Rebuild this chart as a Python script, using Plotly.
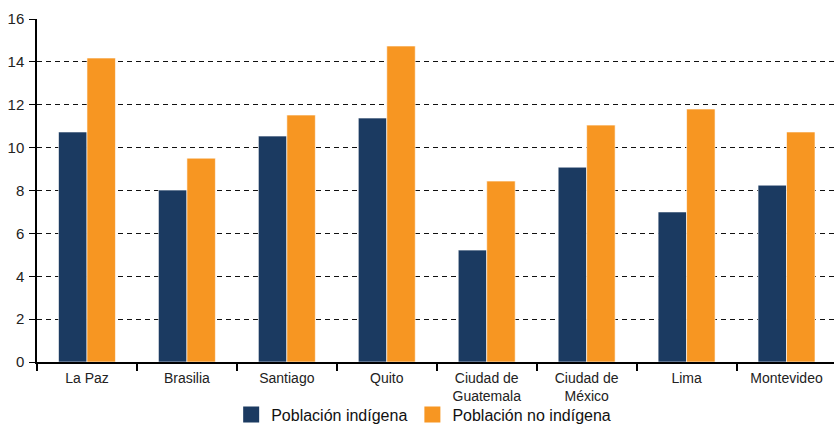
import plotly.graph_objects as go

categories = ["La Paz", "Brasilia", "Santiago", "Quito", "Ciudad de<br>Guatemala",
              "Ciudad de<br>México", "Lima", "Montevideo"]
indigena = [10.73, 8.02, 10.54, 11.38, 5.22, 9.09, 7.0, 8.25]
no_indigena = [14.18, 9.51, 11.52, 14.74, 8.44, 11.05, 11.8, 10.73]
y_ticks = [0, 2, 4, 6, 8, 10, 12, 14, 16]
series_names = ["Población indígena", "Población no indígena"]
colors = ["#1b3a61", "#f79622"]

fig = go.Figure()
for name, vals, col in zip(series_names, [indigena, no_indigena], colors):
    fig.add_trace(go.Bar(x=categories, y=vals, name=name, showlegend=False,
                         marker=dict(color=col, line=dict(color="rgba(255,255,255,0.6)", width=1))))
# legend entries with larger square symbols
for name, col in zip(series_names, colors):
    fig.add_trace(go.Scatter(x=[None], y=[None], mode="markers", name=name,
                             marker=dict(symbol="square", size=16, color=col)))

fig.update_layout(
    width=834, height=424,
    margin=dict(l=37, r=0, t=19, b=62),
    paper_bgcolor="white", plot_bgcolor="white",
    barmode="group", bargap=0.43, bargroupgap=0,
    font=dict(family="Liberation Sans, Arial, sans-serif", color="#222", size=12),
    showlegend=True,
    legend=dict(orientation="h", xref="container", x=0.508, xanchor="center",
                yref="container", y=0.022, yanchor="middle",
                bgcolor="rgba(0,0,0,0)",
                font=dict(size=16, color="#111"), itemwidth=30,
                traceorder="normal"),
    xaxis=dict(range=[-0.5, 7.475], showline=True, linecolor="black", linewidth=1.5,
               ticks="outside", tickson="boundaries", ticklen=7, tickcolor="black",
               tickwidth=1.5, showgrid=False, automargin=False, ticklabelstandoff=2,
               tickfont=dict(size=14, color="#222")),
    yaxis=dict(range=[0, 16], tickvals=y_ticks, showline=True, linecolor="black",
               linewidth=1.5, ticks="outside", ticklen=6, tickcolor="black",
               showgrid=True, gridcolor="#111", gridwidth=1.2, griddash="5px,4px",
               zeroline=False, automargin=False, ticklabelstandoff=2,
               tickfont=dict(size=15, color="#222")),
)

fig.write_html("out.html", config={"displayModeBar": False},
               post_script="document.body.style.margin='0';document.body.style.overflow='hidden';")
